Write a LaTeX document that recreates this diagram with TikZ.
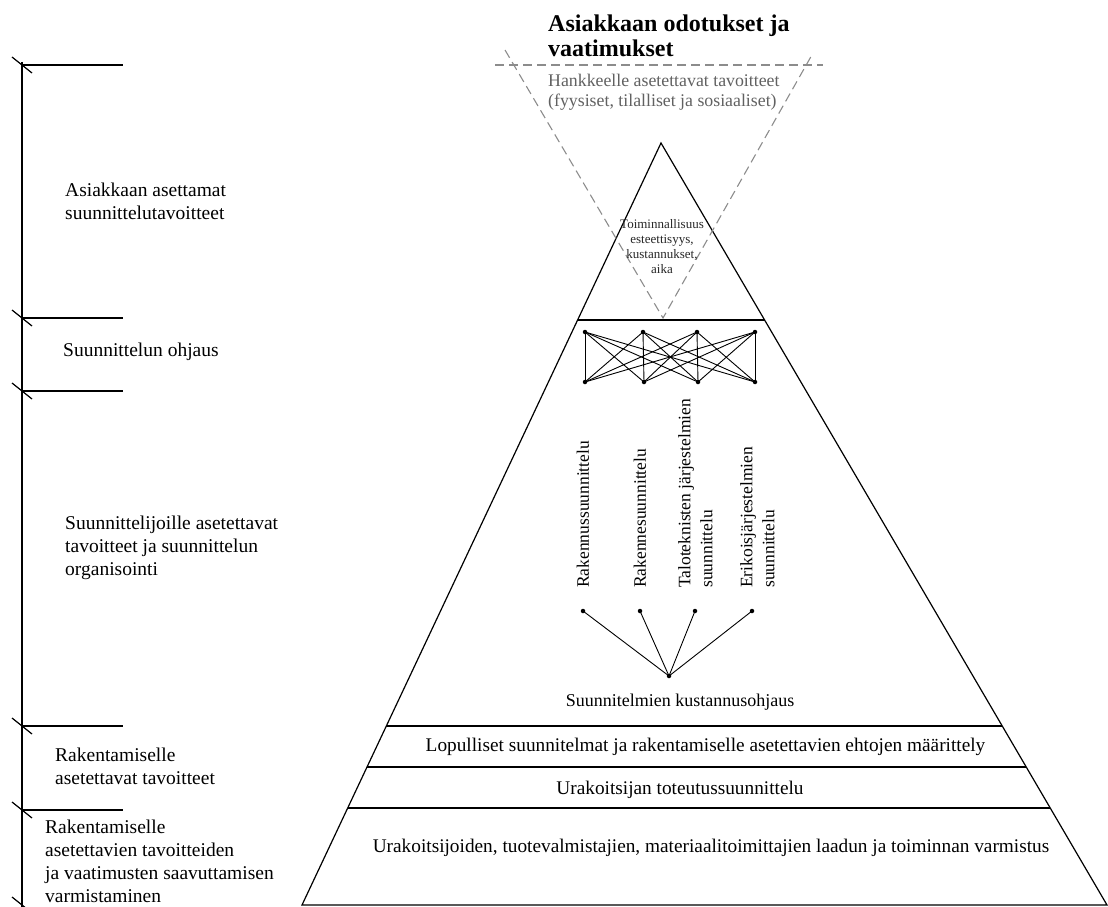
\documentclass[tikz,border=0pt]{standalone}
\usepackage{fontspec}
\setmainfont{Liberation Serif}
\usetikzlibrary{calc}
\begin{document}
\begin{tikzpicture}[x=1pt,y=-1pt,
  dot/.style={circle,fill=black,inner sep=0pt,minimum size=4.5pt},
  lbl/.style={anchor=west,align=left,inner sep=0pt,font=\fontsize{19.5}{23}\selectfont},
  layertext/.style={inner sep=0pt,font=\fontsize{19.3}{23}\selectfont},
  vtext/.style={rotate=90,anchor=west,align=left,inner sep=0pt,font=\fontsize{17.5}{22}\selectfont},
  gdash/.style={draw=black!45,dash pattern=on 9pt off 5pt,line width=1.1pt},
  pline/.style={line width=1.2pt},
  net/.style={line width=0.9pt}]
\useasboundingbox (0,0) rectangle (1108,907);

% left bracket
\draw[pline] (22,62) -- (22,907);
\foreach \yy in {65,318,391,726,810}{
  \draw[pline] (22,\yy) -- (123,\yy);
  \draw[pline] (12,\yy-8) -- (32,\yy+8);
}
\draw[pline] (12,897) -- (32,913);

% left labels
\node[lbl] (l1) at (65,201.5) {Asiakkaan asettamat\\suunnittelutavoitteet};
\node[lbl] (l2) at (63,352) {Suunnittelun ohjaus};
\node[lbl] (l3) at (65,548) {Suunnittelijoille asetettavat\\tavoitteet ja suunnittelun\\organisointi};
\node[lbl] (l4) at (55,766.5) {Rakentamiselle\\asetettavat tavoitteet};
\node[lbl] (l5) at (45,861.5) {Rakentamiselle\\asetettavien tavoitteiden\\ja vaatimusten saavuttamisen\\varmistaminen};

% pyramid
\coordinate (apex) at (661,143);
\coordinate (bl) at (302,905);
\coordinate (br) at (1107,905);
\draw[pline,line join=miter] (bl) -- (apex) -- (br) -- cycle;
\foreach \t in {0.2323,0.7651,0.8189,0.8727}{
  \draw[pline] ($(apex)!\t!(bl)$) -- ($(apex)!\t!(br)$);
}

% dashed inverted triangle
\draw[gdash] (505,50) -- (663,318) -- (813,53);
\draw[gdash] (495,65) -- (823,65);

% title and grey text
\node[anchor=west,align=left,inner sep=0pt,font=\fontsize{24}{25}\selectfont\bfseries] (title) at (548,36) {Asiakkaan odotukset ja\\vaatimukset};
\node[anchor=west,align=left,inner sep=0pt,text=black!62,font=\fontsize{17.8}{19.5}\selectfont] (goals) at (548,92) {Hankkeelle asetettavat tavoitteet\\(fyysiset, tilalliset ja sosiaaliset)};
\node[align=center,inner sep=0pt,text=black!85,font=\fontsize{13}{15}\selectfont] (crit) at (662,247) {Toiminnallisuus\\esteettisyys,\\kustannukset,\\aika};

% network
\node[dot] (t1) at (585,332) {};
\node[dot] (t2) at (643,332) {};
\node[dot] (t3) at (697,332) {};
\node[dot] (t4) at (755,332) {};
\node[dot] (b1) at (585,382) {};
\node[dot] (b2) at (644,382) {};
\node[dot] (b3) at (698,382) {};
\node[dot] (b4) at (755,382) {};
\foreach \i in {1,...,4}{\foreach \j in {1,...,4}{\draw[net] (t\i.center) -- (b\j.center);}}

% vertical texts
\node[vtext] (v1) at (583,588) {Rakennussuunnittelu};
\node[vtext] (v2) at (640,588) {Rakennesuunnittelu};
\node[vtext] (v3) at (695.5,588) {Taloteknisten järjestelmien\\suunnittelu};
\node[vtext] (v4) at (757.5,588) {Erikoisjärjestelmien\\suunnittelu};

% tree
\node[dot] (d1) at (583,611) {};
\node[dot] (d2) at (640,611) {};
\node[dot] (d3) at (695,611) {};
\node[dot] (d4) at (752,611) {};
\node[dot] (root) at (669,676) {};
\foreach \i in {1,...,4}{\draw[net] (d\i.center) -- (root.center);}
\node[inner sep=0pt,font=\fontsize{18}{22}\selectfont] (cost) at (680,702) {Suunnitelmien kustannusohjaus};

% layer texts
\node[layertext] (lay1) at (705.5,747) {Lopulliset suunnitelmat ja rakentamiselle asetettavien ehtojen määrittely};
\node[layertext] (lay2) at (680,790) {Urakoitsijan toteutussuunnittelu};
\node[layertext] (lay3) at (711,848) {Urakoitsijoiden, tuotevalmistajien, materiaalitoimittajien laadun ja toiminnan varmistus};
\end{tikzpicture}
\end{document}
